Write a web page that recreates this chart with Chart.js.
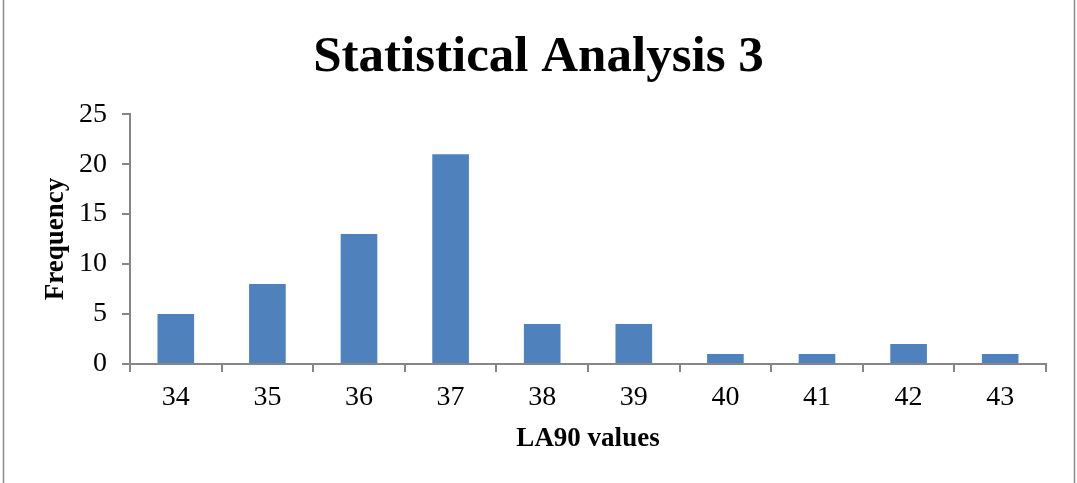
<!DOCTYPE html>
<html>
<head>
<meta charset="utf-8">
<script src="https://cdn.jsdelivr.net/npm/chart.js@4"></script>
<style>
  html, body { margin: 0; padding: 0; background: #fff; }
  #wrap { width: 1077px; height: 483px; }
</style>
</head>
<body>
<div id="wrap"><canvas id="hist-chart" width="1077" height="483"></canvas></div>
<script>
const categories = ['34', '35', '36', '37', '38', '39', '40', '41', '42', '43'];
const frequency = [5, 8, 13, 21, 4, 4, 1, 1, 2, 1];
const yTicks = [0, 5, 10, 15, 20, 25];

const serif = '"Liberation Serif", "DejaVu Serif", serif';
const axisGray = '#868686';

// outer frame, only the sides show in the picture
const framePlugin = {
    id: 'frame',
    afterDraw(chart) {
        const ctx = chart.ctx;
        ctx.save();
        ctx.strokeStyle = '#8c8c8c';
        ctx.lineWidth = 1.5;
        ctx.strokeRect(3.5, -10, 1071, 510);
        ctx.restore();
    }
};

const canvas = document.querySelector('#hist-chart');

new Chart(canvas.getContext('2d'), {
    type: 'bar',
    data: {
        labels: categories,
        datasets: [{
            label: 'Frequency',
            data: frequency,
            backgroundColor: '#4F81BD',
            borderWidth: 0,
            barPercentage: 0.4,
            categoryPercentage: 1
        }]
    },
    options: {
        responsive: false,
        animation: false,
        layout: { padding: { left: 31, right: 31, top: 0, bottom: 0 } },
        plugins: {
            legend: { display: false },
            tooltip: { enabled: false },
            title: {
                display: true,
                text: 'Statistical Analysis 3',
                color: '#000',
                font: { family: serif, size: 51, weight: 'bold' },
                padding: { top: 27, bottom: 26 }
            }
        },
        scales: {
            x: {
                afterFit(scale) { scale.height = 119; },
                border: { display: true, color: axisGray, width: 2 },
                grid: {
                    offset: true,
                    drawOnChartArea: false,
                    drawTicks: true,
                    tickLength: 8,
                    color: axisGray,
                    lineWidth: 2
                },
                ticks: {
                    color: '#000',
                    padding: 9,
                    font: { family: serif, size: 28 }
                },
                title: {
                    display: true,
                    text: 'LA90 values',
                    color: '#000',
                    font: { family: serif, size: 27, weight: 'bold' },
                    padding: { top: 0, bottom: 28 }
                }
            },
            y: {
                min: 0,
                max: 25,
                afterFit(scale) { scale.width = 99; },
                afterBuildTicks(scale) { scale.ticks = yTicks.map(v => ({ value: v })); },
                border: { display: true, color: axisGray, width: 2 },
                grid: {
                    drawOnChartArea: false,
                    drawTicks: true,
                    tickLength: 8,
                    color: axisGray,
                    lineWidth: 2
                },
                ticks: {
                    color: '#000',
                    padding: 15,
                    font: { family: serif, size: 28 }
                },
                title: {
                    display: true,
                    text: 'Frequency',
                    color: '#000',
                    font: { family: serif, size: 27, weight: 'bold' },
                    padding: { top: 9, bottom: 0 }
                }
            }
        }
    },
    plugins: [framePlugin]
});
</script>
</body>
</html>
